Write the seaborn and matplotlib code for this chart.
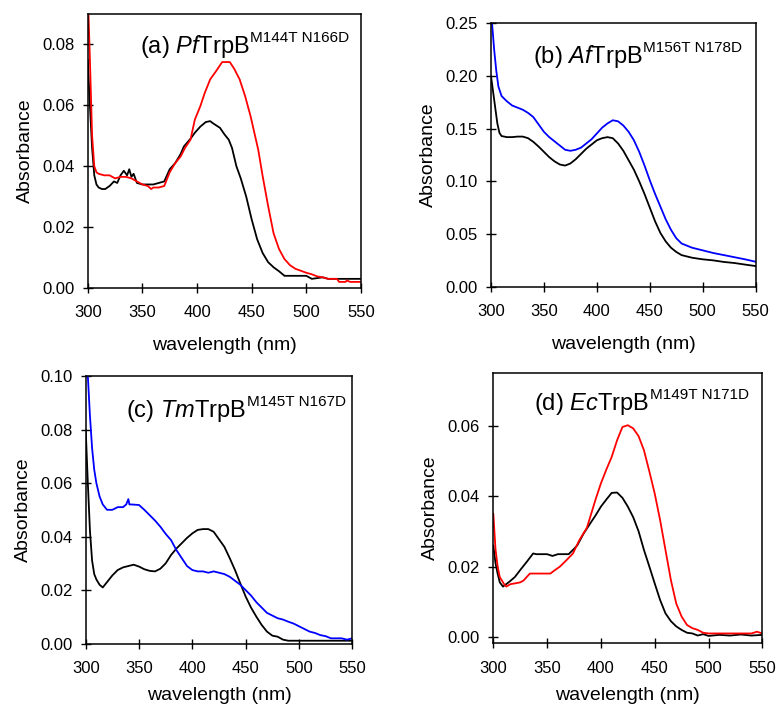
import numpy as np
import pandas as pd
import seaborn as sns
import matplotlib
matplotlib.use("Agg")
import matplotlib.pyplot as plt
from matplotlib.ticker import FormatStrFormatter

# ---------------- data ----------------
a_black_x = [300,302,304,306,308,310,313,316,320,324,327,330,333,336,338,340,342,345,350,360,365,370,375,380,385,388,394,398,403,408,412,415,421,425,429,432,436,440,445,450,455,460,465,470,475,480,490,500,505,515,520,550]
a_black_y = [0.075,0.060,0.046,0.037,0.034,0.033,0.0325,0.0325,0.0335,0.035,0.0345,0.037,0.0385,0.037,0.039,0.0365,0.0375,0.0345,0.034,0.034,0.0345,0.035,0.039,0.041,0.044,0.0465,0.049,0.051,0.053,0.0545,0.0548,0.054,0.0526,0.0505,0.0487,0.046,0.040,0.036,0.030,0.0225,0.016,0.0115,0.0085,0.0068,0.0055,0.004,0.004,0.004,0.003,0.0035,0.003,0.003]
a_red_x = [300,302,304,306,308,310,315,320,325,330,335,340,345,350,355,358,360,365,370,375,380,385,389,394,398,403,407,412,417,423,430,434,439,444,449,456,460,465,470,475,480,485,490,500,505,510,515,520,528,530,536,537,540,550]
a_red_y = [0.098,0.075,0.050,0.040,0.038,0.0375,0.037,0.037,0.036,0.0365,0.0365,0.036,0.035,0.034,0.0335,0.0325,0.033,0.033,0.0335,0.038,0.041,0.0432,0.046,0.0487,0.0553,0.0597,0.064,0.0685,0.071,0.0742,0.0742,0.072,0.0685,0.063,0.0564,0.0454,0.0368,0.027,0.018,0.0128,0.0095,0.0075,0.0063,0.005,0.0045,0.0038,0.0035,0.003,0.003,0.002,0.002,0.0025,0.002,0.002]

b_blue_x = [301,303,305,307,310,315,320,325,330,335,340,345,350,355,360,365,370,375,380,385,390,395,400,405,410,415,420,425,430,435,440,445,450,455,460,465,470,475,480,490,500,510,520,530,540,550]
b_blue_y = [0.25,0.225,0.205,0.19,0.181,0.176,0.172,0.170,0.168,0.165,0.161,0.154,0.147,0.142,0.138,0.134,0.130,0.129,0.130,0.132,0.136,0.140,0.1455,0.151,0.155,0.158,0.157,0.153,0.147,0.139,0.128,0.115,0.101,0.088,0.076,0.064,0.054,0.046,0.041,0.037,0.0345,0.032,0.030,0.028,0.026,0.0237]
b_black_x = [300,302,304,306,308,310,315,320,325,330,335,340,345,350,355,360,365,370,375,380,385,390,395,400,405,410,415,420,425,430,435,440,445,450,455,460,465,470,475,480,490,500,510,520,530,540,550]
b_black_y = [0.20,0.185,0.17,0.155,0.146,0.143,0.142,0.142,0.1425,0.1425,0.141,0.1375,0.133,0.128,0.123,0.119,0.116,0.115,0.117,0.121,0.126,0.131,0.135,0.139,0.141,0.142,0.141,0.136,0.129,0.120,0.111,0.100,0.088,0.075,0.062,0.051,0.043,0.037,0.033,0.030,0.0275,0.026,0.025,0.0235,0.0225,0.021,0.0196]

c_blue_x = [302,304,306,308,310,313,316,320,325,330,335,338,340,341,343,350,355,360,365,370,375,380,385,390,395,400,405,410,415,420,425,430,435,440,445,450,455,460,465,470,475,480,485,490,495,500,505,510,515,520,525,530,540,545,550]
c_blue_y = [0.10,0.085,0.073,0.065,0.060,0.055,0.052,0.050,0.050,0.051,0.051,0.052,0.054,0.052,0.052,0.0518,0.050,0.048,0.046,0.0437,0.041,0.0387,0.035,0.032,0.029,0.0275,0.027,0.027,0.0265,0.027,0.0265,0.026,0.025,0.0235,0.022,0.020,0.018,0.0155,0.0135,0.0115,0.0105,0.0095,0.009,0.0082,0.0075,0.0065,0.0055,0.0045,0.004,0.0032,0.0028,0.002,0.002,0.0015,0.002]
c_black_x = [300,302,304,306,308,310,313,316,320,325,330,335,340,345,350,355,360,365,370,375,380,385,390,395,400,405,410,415,420,425,430,435,440,445,450,455,460,465,470,475,480,485,490,500,550]
c_black_y = [0.08,0.06,0.042,0.031,0.026,0.024,0.022,0.021,0.023,0.0255,0.0275,0.0285,0.029,0.0295,0.0288,0.0278,0.0272,0.027,0.028,0.030,0.0331,0.0355,0.0375,0.0395,0.0412,0.0425,0.0428,0.0428,0.0418,0.039,0.0362,0.032,0.0275,0.0225,0.0176,0.0135,0.0101,0.007,0.0045,0.003,0.0026,0.0015,0.0011,0.0011,0.0011]

d_black_x = [300,302,304,306,309,312,315,320,325,331,337,340,345,350,355,360,365,370,375,378,384,390,395,400,405,410,415,420,425,430,435,440,445,450,455,460,465,470,475,480,485,490,495,500,510,520,530,540,550]
d_black_y = [0.026,0.021,0.018,0.0155,0.0143,0.015,0.0157,0.017,0.019,0.0213,0.0237,0.0235,0.0235,0.0235,0.023,0.0235,0.0235,0.0235,0.025,0.026,0.0294,0.0322,0.0345,0.037,0.039,0.0409,0.041,0.0395,0.037,0.034,0.030,0.0247,0.020,0.0152,0.0105,0.0067,0.0045,0.003,0.002,0.0012,0.001,0.0004,0.0008,0.0003,0.0006,0.0004,0.0007,0.0004,0.0006]
d_red_x = [300,302,304,306,308,310,312,316,320,325,328,334,340,345,350,353,356,362,368,374,380,387,390,395,400,405,410,415,420,425,430,435,440,445,450,455,460,465,470,475,480,485,490,495,500,510,520,530,540,545,550]
d_red_y = [0.035,0.025,0.020,0.017,0.016,0.015,0.0143,0.015,0.0152,0.0155,0.016,0.018,0.018,0.018,0.018,0.018,0.0187,0.020,0.0218,0.0237,0.0275,0.031,0.034,0.039,0.0436,0.0475,0.0511,0.0558,0.0596,0.0601,0.0592,0.057,0.053,0.047,0.0407,0.0332,0.0247,0.0162,0.0095,0.0058,0.0034,0.0025,0.002,0.0012,0.001,0.001,0.001,0.001,0.001,0.0015,0.001]

xticks = [300, 350, 400, 450, 500, 550]

panels = [
    dict(label="(a) ", org="Pf", sup="M144T N166D",
         series=[(a_black_x, a_black_y, "black"), (a_red_x, a_red_y, "#ff0000")],
         ylim=(0, 0.09), yticks=[0, 0.02, 0.04, 0.06, 0.08], fmt="%.2f",
         pos=[0.1129, 0.5915, 0.3517, 0.3887], tpos=(0.19, 0.858), xlp=12),
    dict(label="(b) ", org="Af", sup="M156T N178D",
         series=[(b_black_x, b_black_y, "black"), (b_blue_x, b_blue_y, "#0000ff")],
         ylim=(0, 0.25), yticks=[0, 0.05, 0.10, 0.15, 0.20, 0.25], fmt="%.2f",
         pos=[0.6319, 0.5933, 0.3407, 0.3736], tpos=(0.159, 0.849), xlp=12),
    dict(label="(c) ", org="Tm", sup="M145T N167D",
         series=[(c_black_x, c_black_y, "black"), (c_blue_x, c_blue_y, "#0000ff")],
         ylim=(0, 0.10), yticks=[0, 0.02, 0.04, 0.06, 0.08, 0.10], fmt="%.2f",
         pos=[0.1103, 0.0870, 0.3431, 0.3797], tpos=(0.151, 0.848), xlp=8),
    dict(label="(d) ", org="Ec", sup="M149T N171D",
         series=[(d_black_x, d_black_y, "black"), (d_red_x, d_red_y, "#ff0000")],
         ylim=(-0.0018, 0.075), yticks=[0, 0.02, 0.04, 0.06], fmt="%.2f",
         pos=[0.6349, 0.0875, 0.3462, 0.3838], tpos=(0.151, 0.862), xlp=8),
]

sns.set_style("ticks")
plt.rcParams["font.family"] = ["Liberation Sans", "DejaVu Sans"]
plt.rcParams["mathtext.fontset"] = "custom"
plt.rcParams["mathtext.rm"] = "Liberation Sans"
plt.rcParams["mathtext.it"] = "Liberation Sans:italic"
plt.rcParams["text.color"] = "black"
plt.rcParams["axes.labelcolor"] = "black"
plt.rcParams["xtick.color"] = "black"
plt.rcParams["ytick.color"] = "black"

fig = plt.figure(figsize=(7.77, 7.05), dpi=100)

for p in panels:
    ax = fig.add_axes(p["pos"])
    for xs, ys, col in p["series"]:
        df = pd.DataFrame({"wavelength": xs, "absorbance": ys})
        sns.lineplot(data=df, x="wavelength", y="absorbance", ax=ax, color=col,
                     linewidth=1.3, estimator=None, sort=False)
    ax.set_xlim(300, 550)
    ax.set_ylim(*p["ylim"])
    ax.set_xticks(xticks)
    ax.set_yticks(p["yticks"])
    ax.yaxis.set_major_formatter(FormatStrFormatter(p["fmt"]))
    ax.tick_params(direction="inout", length=7, width=1.0, labelsize=12,
                   colors="black")
    ax.tick_params(axis="x", pad=9)
    ax.tick_params(axis="y", pad=6)
    for s in ax.spines.values():
        s.set_visible(True)
        s.set_linewidth(1.1)
        s.set_color("black")
    ax.set_xlabel("wavelength (nm)", fontsize=14, labelpad=p["xlp"])
    ax.set_ylabel("Absorbance", fontsize=14, labelpad=6)
    t = ax.text(p["tpos"][0], p["tpos"][1],
                p["label"] + r"$\mathit{" + p["org"] + r"}$" + "TrpB",
                transform=ax.transAxes, fontsize=17, va="baseline", ha="left")
    ax.annotate(p["sup"], xy=(1, 0), xycoords=t, xytext=(0.5, 13),
                textcoords="offset points", fontsize=11, va="baseline", ha="left")

fig.savefig("out.png", dpi=100)
